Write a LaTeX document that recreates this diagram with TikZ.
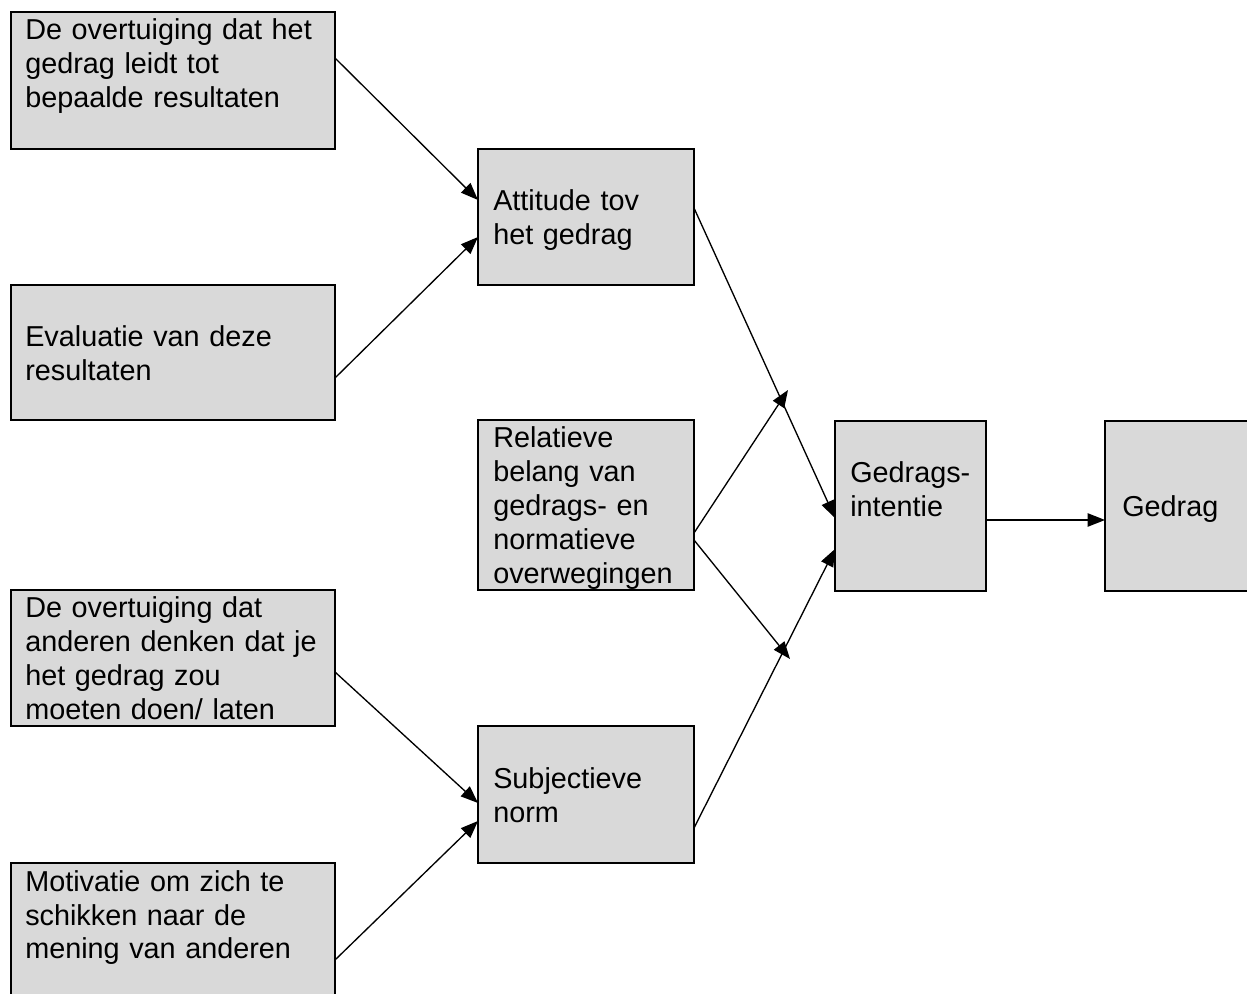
\documentclass[tikz,border=0pt]{standalone}
\usepackage{fontspec}
\setmainfont{Liberation Sans}
\usetikzlibrary{arrows.meta}
\definecolor{boxgray}{RGB}{217,217,217}
\tikzset{
  box/.style 2 args={draw, line width=1.5pt, fill=boxgray, anchor=north west,
    inner sep=0pt, outer sep=0pt, minimum width=#1*0.75pt, minimum height=#2*0.75pt},
  txt/.style={anchor=base west, inner sep=0pt, text width=225pt, align=left,
    font=\fontsize{21.6}{25.5}\selectfont},
  arr/.style={-{Triangle[length=13pt,width=10pt]}, line width=1pt}
}
\begin{document}
\begin{tikzpicture}[x=0.75pt, y=-0.75pt]

    \clip (0,0) rectangle (1247,994);
    \fill[white] (0,0) rectangle (1247,994);

    \node[box={324}{137}] (ovres) at (11,12) {};
    \node[box={324}{135}] (eval) at (11,285) {};
    \node[box={324}{136}] (ovand) at (11,590) {};
    \node[box={324}{150}] (motiv) at (11,863) {};
    \node[box={216}{136}] (attit) at (478,149) {};
    \node[box={216}{170}] (relat) at (478,420) {};
    \node[box={216}{137}] (subj) at (478,726) {};
    \node[box={151}{170}] (intent) at (835,421) {};
    \node[box={160}{170}] (gedrag) at (1105,421) {};

    \node[txt] (tovres) at ([shift={(14,28)}]ovres.north west) {De overtuiging dat het\\gedrag leidt tot\\bepaalde resultaten};
    \node[txt] (teval) at ([shift={(14,62)}]eval.north west) {Evaluatie van deze\\resultaten};
    \node[txt] (tovand) at ([shift={(14,28)}]ovand.north west) {De overtuiging dat\\anderen denken dat je\\het gedrag zou\\moeten doen/ laten};
    \node[txt] (tmotiv) at ([shift={(14,28)}]motiv.north west) {Motivatie om zich te\\schikken naar de\\mening van anderen};
    \node[txt] (tattit) at ([shift={(15,62)}]attit.north west) {Attitude tov\\het gedrag};
    \node[txt] (trelat) at ([shift={(15,28)}]relat.north west) {Relatieve\\belang van\\gedrags- en\\normatieve\\overwegingen};
    \node[txt] (tsubj) at ([shift={(15,62)}]subj.north west) {Subjectieve\\norm};
    \node[txt] (tintent) at ([shift={(15,62)}]intent.north west) {Gedrags-\\intentie};
    \node[txt] (tgedrag) at ([shift={(17,96)}]gedrag.north west) {Gedrag};

    \coordinate (up) at (788,390);
    \coordinate (down) at (790,659);

    \draw[arr] ([shift={(0,46)}]ovres.north east) -- ([shift={(0,51)}]attit.north west);
    \draw[arr] ([shift={(0,93)}]eval.north east) -- ([shift={(0,88)}]attit.north west);
    \draw[arr] ([shift={(0,82)}]ovand.north east) -- ([shift={(0,77)}]subj.north west);
    \draw[arr] ([shift={(0,97)}]motiv.north east) -- ([shift={(0,95)}]subj.north west);
    \draw[arr] ([shift={(0,59)}]attit.north east) -- ([shift={(0,97)}]intent.north west);
    \draw[arr] ([shift={(0,113)}]relat.north east) -- (up);
    \draw[arr] ([shift={(0,120)}]relat.north east) -- (down);
    \draw[arr] ([shift={(0,102)}]subj.north east) -- ([shift={(0,128)}]intent.north west);
    \draw[arr] ([shift={(0,99)}]intent.north east) -- ([shift={(0,99)}]gedrag.north west);

\end{tikzpicture}
\end{document}
